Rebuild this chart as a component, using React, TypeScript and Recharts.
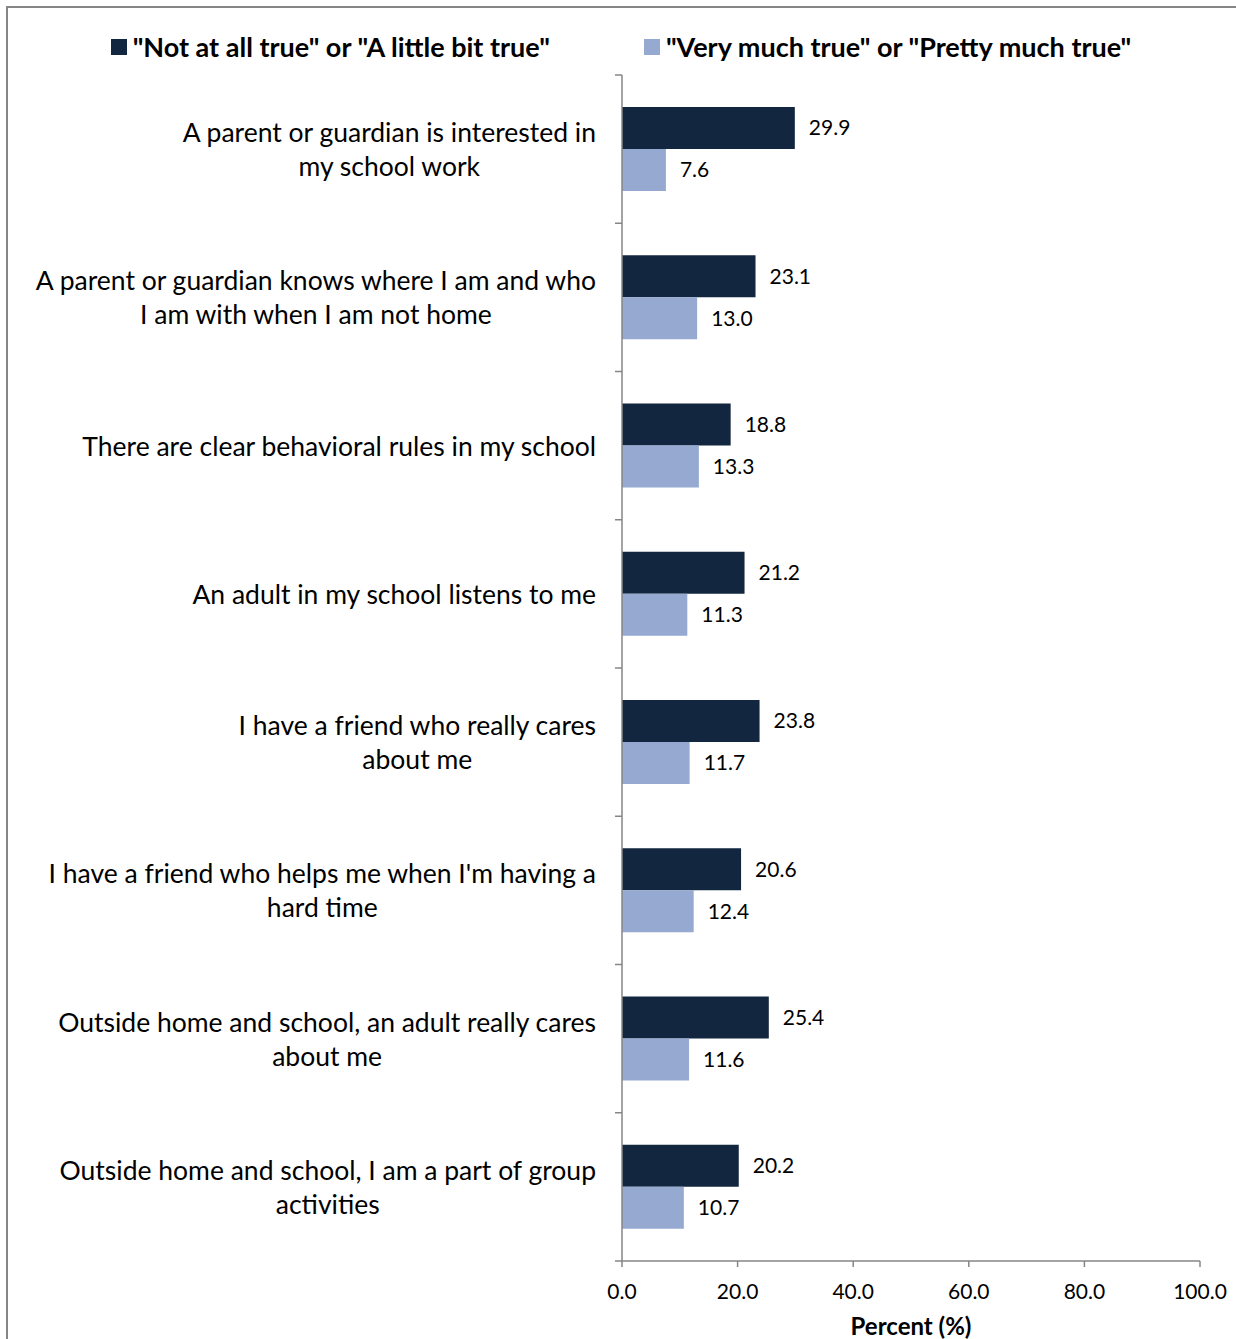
import { BarChart, Bar, XAxis, YAxis, Legend, LabelList } from "recharts";

const categories = [
    "A parent or guardian is interested in\nmy school work",
    "A parent or guardian knows where I am and who\nI am with when I am not home",
    "There are clear behavioral rules in my school",
    "An adult in my school listens to me",
    "I have a friend who really cares\nabout me",
    "I have a friend who helps me when I'm having a\nhard time",
    "Outside home and school, an adult really cares\nabout me",
    "Outside home and school, I am a part of group\nactivities",
];

const notTrue = [29.9, 23.1, 18.8, 21.2, 23.8, 20.6, 25.4, 20.2];
const veryTrue = [7.6, 13.0, 13.3, 11.3, 11.7, 12.4, 11.6, 10.7];

const xTicks = [0, 20, 40, 60, 80, 100];

const seriesNames = {
    notTrue: "\"Not at all true\" or \"A little bit true\"",
    veryTrue: "\"Very much true\" or \"Pretty much true\"",
};

const DARK = "#13263f";
const LIGHT = "#95a9d1";
const AXIS = "#868686";
const FONT = "Lato, 'Open Sans', sans-serif";

const data = categories.map((c, i) => ({
    name: c,
    notTrue: notTrue[i],
    veryTrue: veryTrue[i],
}));

function CategoryTick(props: any) {
    const { x, y, payload, index, visibleTicksCount } = props;
    const half = payload.offset || 74;
    const top = y - half;
    const isLast = index === visibleTicksCount - 1;
    // x is the text anchor, 2px left of the axis line
    const ax = x + 2;
    return (
        <g>
            <line x1={ax - 7} x2={ax} y1={top} y2={top} stroke={AXIS} strokeWidth={1.5} />
            {isLast && (
                <line x1={ax - 7} x2={ax} y1={y + half} y2={y + half} stroke={AXIS} strokeWidth={1.5} />
            )}
            <foreignObject x={0} y={top} width={596} height={half * 2}>
                <div
                    style={{
                        width: 596,
                        height: half * 2,
                        display: "flex",
                        alignItems: "center",
                        justifyContent: "flex-end",
                    }}
                >
                    <div
                        style={{
                            textAlign: "center",
                            whiteSpace: "pre-line",
                            fontFamily: FONT,
                            fontSize: 26.5,
                            lineHeight: "34px",
                            color: "#000",
                        }}
                    >
                        {payload.value}
                    </div>
                </div>
            </foreignObject>
        </g>
    );
}

function LegendContent() {
    const items = [
        { label: seriesNames.notTrue, color: DARK },
        { label: seriesNames.veryTrue, color: LIGHT },
    ];
    return (
        <div style={{ display: "flex", justifyContent: "center", gap: 94, paddingLeft: 6 }}>
            {items.map((it) => (
                <div key={it.label} style={{ display: "flex", alignItems: "center", height: 32 }}>
                    <span style={{ width: 16, height: 16, background: it.color, marginRight: 6 }} />
                    <span
                        style={{
                            fontFamily: FONT,
                            fontWeight: 700,
                            fontSize: 27,
                            lineHeight: "32px",
                            color: "#000",
                        }}
                    >
                        {it.label}
                    </span>
                </div>
            ))}
        </div>
    );
}

export default function App() {
    return (
        <div style={{ position: "absolute", left: 0, top: 0, width: 1236, height: 1339, background: "#fff" }}>
            <div
                style={{
                    position: "absolute",
                    left: 6,
                    top: 6,
                    width: 1300,
                    height: 1400,
                    borderLeft: `2px solid ${AXIS}`,
                    borderTop: `2px solid ${AXIS}`,
                    boxSizing: "border-box",
                }}
            />
            <div style={{ position: "absolute", left: 0, top: 0 }}>
                <BarChart
                    width={1236}
                    height={1339}
                    data={data}
                    layout="vertical"
                    margin={{ top: 75, right: 36, bottom: 0, left: 0 }}
                    barCategoryGap={32}
                    barGap={0}
                >
                    <Legend
                        layout="horizontal"
                        verticalAlign="middle"
                        align="center"
                        content={<LegendContent />}
                        wrapperStyle={{ top: 31, left: 0, width: 1236 }}
                    />
                    <XAxis
                        type="number"
                        domain={[0, 100]}
                        ticks={xTicks}
                        tickFormatter={(v) => v.toFixed(1)}
                        interval={0}
                        stroke={AXIS}
                        strokeWidth={1.5}
                        tickSize={6}
                        tick={{ fontSize: 21, fill: "#000", fontFamily: FONT, dy: 15 }}
                        height={78}
                        label={{
                            value: "Percent (%)",
                            position: "insideBottom",
                            offset: 4,
                            style: { fontSize: 24, fontWeight: 700, fill: "#000", fontFamily: FONT },
                        }}
                    />
                    <YAxis
                        type="category"
                        dataKey="name"
                        width={622}
                        stroke={AXIS}
                        strokeWidth={1.5}
                        tickLine={false}
                        tick={<CategoryTick />}
                        interval={0}
                        tickSize={0}
                    />
                    <Bar dataKey="notTrue" name={seriesNames.notTrue} fill={DARK} isAnimationActive={false}>
                        <LabelList
                            dataKey="notTrue"
                            position="right"
                            offset={14}
                            formatter={(v: any) => Number(v).toFixed(1)}
                            style={{ fontSize: 21, fill: "#000", fontFamily: FONT }}
                        />
                    </Bar>
                    <Bar dataKey="veryTrue" name={seriesNames.veryTrue} fill={LIGHT} isAnimationActive={false}>
                        <LabelList
                            dataKey="veryTrue"
                            position="right"
                            offset={14}
                            formatter={(v: any) => Number(v).toFixed(1)}
                            style={{ fontSize: 21, fill: "#000", fontFamily: FONT }}
                        />
                    </Bar>
                </BarChart>
            </div>
        </div>
    );
}
